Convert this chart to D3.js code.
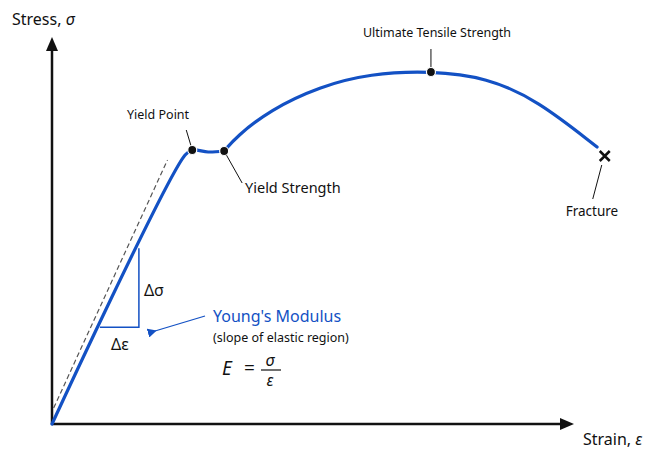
<!DOCTYPE html>
<html><head><meta charset="utf-8">
<script src="https://cdn.jsdelivr.net/npm/d3@7"></script>
<style>body{margin:0;background:#fff;font-family:"Noto Sans",sans-serif}</style>
</head><body><div id="chart"></div>
<script>
// strain / stress in arbitrary units (0-100)
// elastic + yield region
const strainElastic = [0, 24.2, 25.5, 28.4, 31.3];
const stressElastic = [0, 67.25, 68.5, 68, 68.25];
// strain hardening + necking region
const strainPlastic = [31.3, 33.5, 39.6, 48.7, 57.8, 68.9, 79.1, 88.2, 99.1];
const stressPlastic = [68.25, 71.8, 78.5, 84.4, 87.6, 88.3, 86.6, 81, 69.25];
const keyPoints = [
  {name: "Yield Point", x: 25.5, y: 68.5},
  {name: "Yield Strength", x: 31.3, y: 68.25},
  {name: "Ultimate Tensile Strength", x: 68.9, y: 88}
];
const fracture = {name: "Fracture", x: 100.5, y: 67};

const W = 666, H = 453;
const x = d3.scaleLinear().domain([0, 100]).range([52, 602]);
const y = d3.scaleLinear().domain([0, 100]).range([424, 24]);

const svg = d3.select("#chart").append("svg").attr("width", W).attr("height", H);
const blue = "#1351c4";

// axes
svg.append("line").attr("x1", 52).attr("y1", 424).attr("x2", 52).attr("y2", 48)
  .attr("stroke", "#111").attr("stroke-width", 2.5);
svg.append("path").attr("d", "M52,37 L46,51 L58,51 Z").attr("fill", "#111");
svg.append("line").attr("x1", 52).attr("y1", 424).attr("x2", 562).attr("y2", 424)
  .attr("stroke", "#111").attr("stroke-width", 2.5);
svg.append("path").attr("d", "M574,424 L560,418 L560,430 Z").attr("fill", "#111");
svg.append("text").attr("x", 12).attr("y", 25).attr("font-size", 16).attr("fill", "#111")
  .html('Stress, <tspan font-style="italic">σ</tspan>');
svg.append("text").attr("x", 583).attr("y", 445).attr("font-size", 16).attr("fill", "#111")
  .html('Strain, <tspan font-style="italic">ε</tspan>');

// elastic reference (dashed)
svg.append("line").attr("x1", x(0.3)).attr("y1", y(4)).attr("x2", x(21)).attr("y2", y(66))
  .attr("stroke", "#555").attr("stroke-width", 1.2).attr("stroke-dasharray", "5,3");

// curve
const line = d3.line().x(d => x(d[0])).y(d => y(d[1]));
svg.append("path").datum(strainElastic.map((s, i) => [s, stressElastic[i]]))
  .attr("d", line.curve(d3.curveCatmullRom.alpha(0.5)))
  .attr("fill", "none").attr("stroke", blue).attr("stroke-width", 3.2).attr("stroke-linecap", "round");
svg.append("path").datum(strainPlastic.map((s, i) => [s, stressPlastic[i]]))
  .attr("d", line.curve(d3.curveBasis))
  .attr("fill", "none").attr("stroke", blue).attr("stroke-width", 3.2).attr("stroke-linecap", "round");

// slope triangle
const t0 = 8.7, t1 = 15.8;
const slope = 67.25 / 24.2;
svg.append("path")
  .attr("d", `M${x(t0)},${y(t0 * slope)} L${x(t1)},${y(t0 * slope)} L${x(t1)},${y(t1 * slope)}`)
  .attr("fill", "none").attr("stroke", blue).attr("stroke-width", 1.5);
svg.append("text").attr("x", x(t1) + 5).attr("y", 296).attr("font-size", 16).attr("fill", "#111").text("Δσ");
svg.append("text").attr("x", 111).attr("y", 350).attr("font-size", 16).attr("fill", "#111").text("Δε");

// Young's modulus note
svg.append("defs").append("marker").attr("id", "ah").attr("viewBox", "0 0 10 10")
  .attr("refX", 2).attr("refY", 5).attr("markerWidth", 7).attr("markerHeight", 7).attr("orient", "auto")
  .append("path").attr("d", "M10,0 L0,5 L10,10 Z").attr("fill", blue);
svg.append("line").attr("x1", 205).attr("y1", 316).attr("x2", 155).attr("y2", 331)
  .attr("stroke", blue).attr("stroke-width", 1.3).attr("marker-end", "url(#ah)");
svg.append("text").attr("x", 213).attr("y", 322).attr("font-size", 16).attr("fill", blue).text("Young's Modulus");
svg.append("text").attr("x", 213).attr("y", 342).attr("font-size", 12.5).attr("fill", "#111").text("(slope of elastic region)");
svg.append("text").attr("x", 222).attr("y", 375).attr("font-size", 19).attr("font-style", "italic").attr("fill", "#111").text("E");
svg.append("text").attr("x", 244).attr("y", 375).attr("font-size", 19).attr("fill", "#111").text("=");
svg.append("text").attr("x", 270).attr("y", 366).attr("font-size", 16).attr("font-style", "italic").attr("text-anchor", "middle").attr("fill", "#111").text("σ");
svg.append("line").attr("x1", 261).attr("x2", 281).attr("y1", 370).attr("y2", 370).attr("stroke", "#111").attr("stroke-width", 1.2);
svg.append("text").attr("x", 270).attr("y", 386).attr("font-size", 16).attr("font-style", "italic").attr("text-anchor", "middle").attr("fill", "#111").text("ε");

// key points and leaders
const leaders = {
  "Yield Point": {dx: -6, dy: -20, tx: 127, ty: 119, anchor: "start"},
  "Yield Strength": {dx: 18, dy: 32, tx: 245, ty: 193, anchor: "start"},
  "Ultimate Tensile Strength": {dx: 0, dy: -23, tx: 437, ty: 37, anchor: "middle"}
};
keyPoints.forEach(p => {
  const L = leaders[p.name];
  const px = x(p.x), py = y(p.y);
  svg.append("line").attr("x1", px).attr("y1", py).attr("x2", px + L.dx).attr("y2", py + L.dy)
    .attr("stroke", "#111").attr("stroke-width", 1);
  svg.append("circle").attr("cx", px).attr("cy", py).attr("r", 4.5).attr("fill", "#111")
    .attr("stroke", "#fff").attr("stroke-width", 1.2);
  svg.append("text").attr("x", L.tx).attr("y", L.ty).attr("text-anchor", L.anchor)
    .attr("font-size", p.name === "Yield Strength" ? 14.5 : 12.5).attr("fill", "#111").text(p.name);
});

// fracture
const fx = x(fracture.x), fy = y(fracture.y);
svg.append("path").attr("d", `M${fx-5},${fy-5} L${fx+5},${fy+5} M${fx+5},${fy-5} L${fx-5},${fy+5}`)
  .attr("stroke", "#111").attr("stroke-width", 2.5);
svg.append("line").attr("x1", fx - 3).attr("y1", fy + 9).attr("x2", fx - 12).attr("y2", fy + 43)
  .attr("stroke", "#111").attr("stroke-width", 1);
svg.append("text").attr("x", 592).attr("y", 216).attr("text-anchor", "middle").attr("font-size", 13.5)
  .attr("fill", "#111").text(fracture.name);
</script></body></html>
